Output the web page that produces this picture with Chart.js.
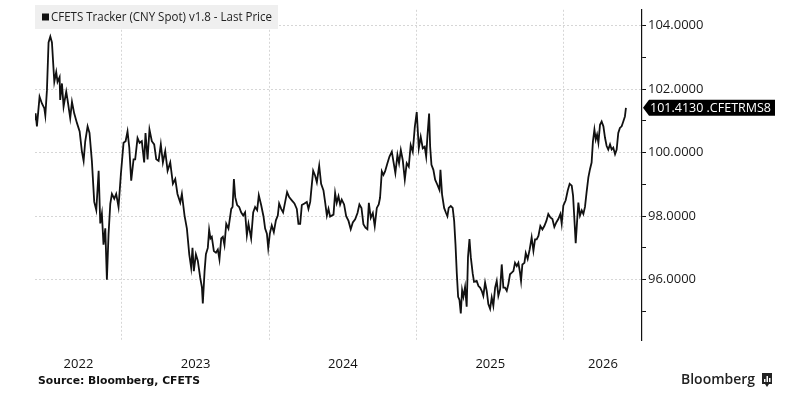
<!DOCTYPE html>
<html>
<head>
<meta charset="utf-8">
<script src="https://cdn.jsdelivr.net/npm/chart.js@4.4.1/dist/chart.umd.min.js"></script>
<style>
  html, body { margin: 0; padding: 0; background: #fff; }
  #wrap { position: relative; width: 800px; height: 408px; }
</style>
</head>
<body>
<div id="wrap"><canvas id="cfets" width="800" height="408"></canvas></div>
<script>
// series / labels
const seriesLabel = 'CFETS Tracker (CNY Spot) v1.8 - Last Price';
const lastLabel = '101.4130 .CFETRMS8';
const lastValue = 101.413;
const sourceText = 'Source: Bloomberg, CFETS';
const yearLabels = ['2022', '2023', '2024', '2025', '2026'];
const yearStarts = [2022, 2023, 2024, 2025, 2026];
const yMajorTicks = [96, 98, 100, 102, 104];
const yMinorTicks = [95, 97, 99, 101, 103];

// dates as decimal years
const dates = [
  2022.410, 2022.414, 2022.423, 2022.441, 2022.457, 2022.473, 2022.480, 2022.491, 2022.502, 2022.514,
  2022.525, 2022.541, 2022.554, 2022.563, 2022.577, 2022.581, 2022.593, 2022.604, 2022.622, 2022.631,
  2022.649, 2022.661, 2022.676, 2022.695, 2022.713, 2022.728, 2022.740, 2022.751, 2022.767, 2022.780,
  2022.796, 2022.812, 2022.826, 2022.842, 2022.853, 2022.864, 2022.875, 2022.887, 2022.898, 2022.909,
  2022.921, 2022.932, 2022.948, 2022.961, 2022.977, 2022.993, 2023.011, 2023.025, 2023.038, 2023.050,
  2023.063, 2023.079, 2023.090, 2023.106, 2023.120, 2023.135, 2023.151, 2023.160, 2023.174, 2023.187,
  2023.203, 2023.219, 2023.233, 2023.249, 2023.264, 2023.278, 2023.294, 2023.310, 2023.328, 2023.346,
  2023.362, 2023.377,
  2023.396, 2023.407, 2023.425, 2023.441, 2023.457, 2023.470, 2023.479, 2023.488, 2023.502, 2023.515,
  2023.531, 2023.543, 2023.549, 2023.561, 2023.570, 2023.583, 2023.592, 2023.601, 2023.610, 2023.624,
  2023.638, 2023.651, 2023.662, 2023.674, 2023.685, 2023.696, 2023.708, 2023.723, 2023.742, 2023.751,
  2023.760, 2023.769, 2023.782, 2023.796, 2023.809, 2023.823, 2023.836, 2023.848, 2023.859, 2023.877,
  2023.891, 2023.904, 2023.918, 2023.929, 2023.945, 2023.961, 2023.972, 2023.984, 2023.993, 2024.004,
  2024.017, 2024.031, 2024.045, 2024.058, 2024.067, 2024.081, 2024.094, 2024.108, 2024.121, 2024.135,
  2024.153, 2024.171, 2024.187, 2024.198, 2024.210, 2024.221, 2024.239, 2024.255, 2024.266, 2024.278,
  2024.284, 2024.298, 2024.311, 2024.323, 2024.339, 2024.352, 2024.368, 2024.379, 2024.391, 2024.402,
  2024.413,
  2024.436, 2024.447, 2024.458, 2024.470, 2024.481, 2024.492, 2024.508, 2024.522, 2024.538, 2024.553,
  2024.567, 2024.583, 2024.599, 2024.612, 2024.626, 2024.639, 2024.653, 2024.666, 2024.676, 2024.689,
  2024.703, 2024.716, 2024.730, 2024.743, 2024.752, 2024.764, 2024.775, 2024.786, 2024.802, 2024.816,
  2024.832, 2024.843, 2024.856, 2024.870, 2024.881, 2024.893, 2024.906, 2024.920, 2024.933, 2024.947,
  2024.960, 2024.974, 2024.988, 2025.001, 2025.015, 2025.028, 2025.042, 2025.055, 2025.065, 2025.074,
  2025.085, 2025.092, 2025.101, 2025.114, 2025.126, 2025.141, 2025.155, 2025.162, 2025.173, 2025.187,
  2025.200, 2025.209, 2025.218, 2025.232, 2025.245, 2025.255, 2025.264, 2025.273, 2025.282, 2025.291,
  2025.300, 2025.309, 2025.318, 2025.329, 2025.340, 2025.349, 2025.359, 2025.368, 2025.381, 2025.390,
  2025.408, 2025.420, 2025.431, 2025.442, 2025.453, 2025.465, 2025.476, 2025.487, 2025.499, 2025.510,
  2025.521, 2025.533, 2025.544, 2025.555, 2025.567, 2025.578, 2025.589, 2025.600, 2025.612, 2025.623,
  2025.634, 2025.646, 2025.657, 2025.668, 2025.680, 2025.691, 2025.702, 2025.709, 2025.718, 2025.732,
  2025.741, 2025.754, 2025.768, 2025.781, 2025.793, 2025.804, 2025.815, 2025.827, 2025.840, 2025.854,
  2025.867, 2025.881, 2025.894, 2025.908, 2025.922, 2025.935, 2025.949, 2025.962, 2025.976, 2025.985,
  2025.996, 2026.012, 2026.026, 2026.039, 2026.053, 2026.062, 2026.071, 2026.080, 2026.089, 2026.098,
  2026.109, 2026.121, 2026.132, 2026.143, 2026.154, 2026.166, 2026.177, 2026.188, 2026.197, 2026.207,
  2026.216, 2026.225, 2026.234, 2026.245, 2026.256, 2026.268, 2026.279, 2026.290, 2026.301, 2026.313,
  2026.324, 2026.335, 2026.347, 2026.358, 2026.369, 2026.380, 2026.392, 2026.403, 2026.414, 2026.421
];

const values = [
  101.05, 101.24, 100.83, 101.76, 101.55, 101.40, 101.17, 101.97, 103.47, 103.66,
  103.47, 102.23, 102.54, 102.23, 102.38, 101.66, 102.18, 101.45, 101.92, 101.66,
  101.09, 101.60, 101.24, 100.93, 100.67, 100.05, 99.74, 100.36, 100.83, 100.62,
  99.74, 98.45, 98.19, 99.43, 97.77, 98.08, 97.10, 97.62, 96.00, 97.41,
  98.39, 98.70, 98.55, 98.70, 98.29, 99.33, 100.31, 100.36, 100.67, 100.16,
  99.12, 99.79, 99.79, 100.46, 100.31, 100.36, 99.69, 100.62, 99.79, 100.73,
  100.36, 100.26, 99.79, 99.74, 100.26, 99.69, 100.05, 99.43, 99.69, 99.02,
  99.17, 98.70,
  98.43, 98.70, 98.02, 97.61, 96.80, 96.38, 97.00, 96.27, 96.80, 96.60,
  96.07, 95.76, 95.25, 96.27, 96.80, 97.00, 97.57, 97.30, 97.35, 96.90,
  96.85, 96.95, 96.64, 97.30, 97.35, 97.09, 97.76, 97.61, 98.23, 98.29,
  99.17, 98.60, 98.35, 98.29, 98.12, 98.02, 98.12, 97.40, 97.76, 97.30,
  98.12, 98.29, 98.19, 98.66, 98.35, 97.99, 97.61, 97.45, 97.00, 97.45,
  97.71, 97.50, 97.87, 98.02, 98.40, 98.23, 98.12, 98.45, 98.76, 98.60,
  98.50, 98.40, 98.23, 97.76, 97.76, 98.35, 98.40, 98.45, 98.23, 98.45,
  98.76, 99.43, 99.28, 99.07, 99.59, 99.02, 98.81, 98.45, 98.02, 98.23,
  97.99,
  98.05, 98.73, 98.42, 98.63, 98.37, 98.52, 98.37, 98.00, 97.85, 97.59,
  97.80, 97.90, 98.10, 98.37, 98.26, 97.75, 97.64, 97.59, 98.42, 97.95,
  98.10, 97.69, 98.26, 98.37, 98.58, 99.41, 99.30, 99.41, 99.67, 99.88,
  100.03, 99.72, 99.36, 99.93, 99.67, 100.08, 99.77, 99.15, 99.67, 99.56,
  100.24, 100.03, 100.81, 101.28, 100.14, 100.50, 100.14, 100.19, 99.88, 100.55,
  101.23, 100.19, 99.62, 99.46, 99.15, 98.99, 98.83, 99.46, 98.68, 98.26,
  98.10, 98.00, 98.26, 98.32, 98.26, 97.85, 97.12, 96.19, 95.46, 95.36,
  94.94, 95.67, 95.46, 95.77, 95.15, 96.71, 97.28, 96.71, 96.19, 95.93,
  95.96, 95.80, 95.75, 95.65, 95.49, 95.91, 95.65, 95.23, 95.08, 95.44,
  95.18, 95.75, 95.96, 95.49, 95.70, 96.48, 95.75, 95.75, 95.65, 95.86,
  96.17, 96.22, 96.27, 96.53, 96.43, 96.53, 96.22, 95.96, 96.48, 96.53,
  96.84, 96.65, 96.96, 97.33, 96.91, 97.27, 97.27, 97.38, 97.69, 97.58,
  97.69, 97.85, 98.07, 97.96, 97.91, 97.66, 97.81, 97.91, 98.07, 97.76,
  98.33, 98.50, 98.81, 99.02, 98.96, 98.65, 97.91, 97.15, 97.81, 98.43,
  98.02, 98.18, 98.07, 98.29, 98.76, 99.22, 99.48, 99.69, 100.36, 100.73,
  100.41, 100.57, 100.31, 100.88, 100.98, 100.83, 100.47, 100.21, 100.10, 100.26,
  100.10, 100.16, 99.95, 100.10, 100.62, 100.78, 100.83, 100.98, 101.14, 101.413
];

const FONT = '"Open Sans", "Liberation Sans", sans-serif';

// draw text squeezed/stretched horizontally to a given width
function fitText(ctx, text, x, y, w) {
    const m = ctx.measureText(text).width;
    ctx.save();
    ctx.translate(x, y);
    ctx.scale(w / m, 1);
    ctx.fillText(text, 0, 0);
    ctx.restore();
}

// extra drawing: legend box, year labels, last price tag, footer
const decorations = {
  id: 'decorations',
  afterDraw(chart) {
    const ctx = chart.ctx;
    const xs = chart.scales.x;
    const ys = chart.scales.y;
    const area = chart.chartArea;
    ctx.save();

    // legend box
    ctx.fillStyle = '#efefef';
    ctx.fillRect(area.left, 5, 243, 24);
    ctx.fillStyle = '#111';
    ctx.fillRect(42, 13.5, 7, 7);
    ctx.font = '13px ' + FONT;
    ctx.fillStyle = '#222';
    ctx.textBaseline = 'middle';
    ctx.textAlign = 'left';
    fitText(ctx, seriesLabel, 51, 17.5, 221);

    // year labels centred in each visible year
    ctx.font = '13px ' + FONT;
    ctx.textAlign = 'center';
    ctx.fillStyle = '#111';
    yearStarts.forEach((y0, i) => {
      const a = Math.max(y0, xs.min);
      const b = Math.min(y0 + 1, xs.max);
      if (b <= a) return;
      const px = (xs.getPixelForValue(a) + xs.getPixelForValue(b)) / 2;
      ctx.fillText(yearLabels[i], px, 364);
    });

    // last price tag
    const ty = ys.getPixelForValue(lastValue);
    const tx = area.right + 1;
    ctx.fillStyle = '#000';
    ctx.beginPath();
    ctx.moveTo(tx, ty);
    ctx.lineTo(tx + 6, ty - 8);
    ctx.lineTo(775, ty - 8);
    ctx.lineTo(775, ty + 8);
    ctx.lineTo(tx + 6, ty + 8);
    ctx.closePath();
    ctx.fill();
    ctx.fillStyle = '#fff';
    ctx.textAlign = 'left';
    ctx.font = '13px ' + FONT;
    fitText(ctx, lastLabel, tx + 7, ty + 0.5, 121);

    // footer
    ctx.fillStyle = '#111';
    ctx.font = 'bold 11px "DejaVu Sans", sans-serif';
    fitText(ctx, sourceText, 38, 381, 162);

    ctx.font = '600 14px ' + FONT;
    ctx.fillStyle = '#222';
    fitText(ctx, 'Bloomberg', 681, 380, 74);
    // small logo mark
    ctx.fillStyle = '#222';
    ctx.fillRect(762, 373, 10, 11);
    ctx.beginPath();
    ctx.moveTo(765, 384); ctx.lineTo(767, 387); ctx.lineTo(769, 384);
    ctx.fill();
    ctx.fillStyle = '#fff';
    ctx.fillRect(764, 379, 1.5, 3);
    ctx.fillRect(766.5, 376, 1.5, 6);
    ctx.fillRect(769, 378, 1.5, 4);

    ctx.restore();
  }
};

const points = dates.map((d, i) => ({ x: d, y: values[i] }));

new Chart(document.getElementById('cfets'), {
  type: 'line',
  data: {
    datasets: [{
      label: seriesLabel,
      data: points,
      borderColor: '#111',
      borderWidth: 1.8,
      pointRadius: 0,
      tension: 0,
      fill: false
    }]
  },
  options: {
    responsive: false,
    devicePixelRatio: 1,
    animation: false,
    layout: { padding: { left: 35, top: 4, right: 0, bottom: 0 } },
    plugins: {
      legend: { display: false },
      tooltip: { enabled: false }
    },
    scales: {
      x: {
        type: 'linear',
        min: 2022.41,
        max: 2026.53,
        afterBuildTicks: s => { s.ticks = yearStarts.slice(1).map(v => ({ value: v })); },
        afterFit: s => { s.height = 68; },
        ticks: { display: false },
        grid: { color: '#d6d6d6', lineWidth: 1, drawTicks: false },
        border: { display: false, dash: [2, 2] }
      },
      y: {
        position: 'right',
        min: 94.1,
        max: 104.5,
        afterBuildTicks: s => {
          s.ticks = yMinorTicks.concat(yMajorTicks).sort((a, b) => a - b).map(v => ({ value: v }));
        },
        afterFit: s => { s.width = 158; },
        ticks: {
          padding: 2,
          color: '#1a1a1a',
          font: { size: 13, family: FONT },
          callback: v => yMajorTicks.includes(v) ? v.toFixed(4) : ''
        },
        grid: {
          color: c => (c.tick && yMajorTicks.includes(c.tick.value)) ? '#d6d6d6' : 'rgba(0,0,0,0)',
          tickColor: '#111',
          tickLength: 4,
          tickWidth: 1
        },
        border: { display: true, color: '#111', width: 1.2, dash: [2, 2] }
      }
    }
  },
  plugins: [decorations]
});
</script>
</body>
</html>
